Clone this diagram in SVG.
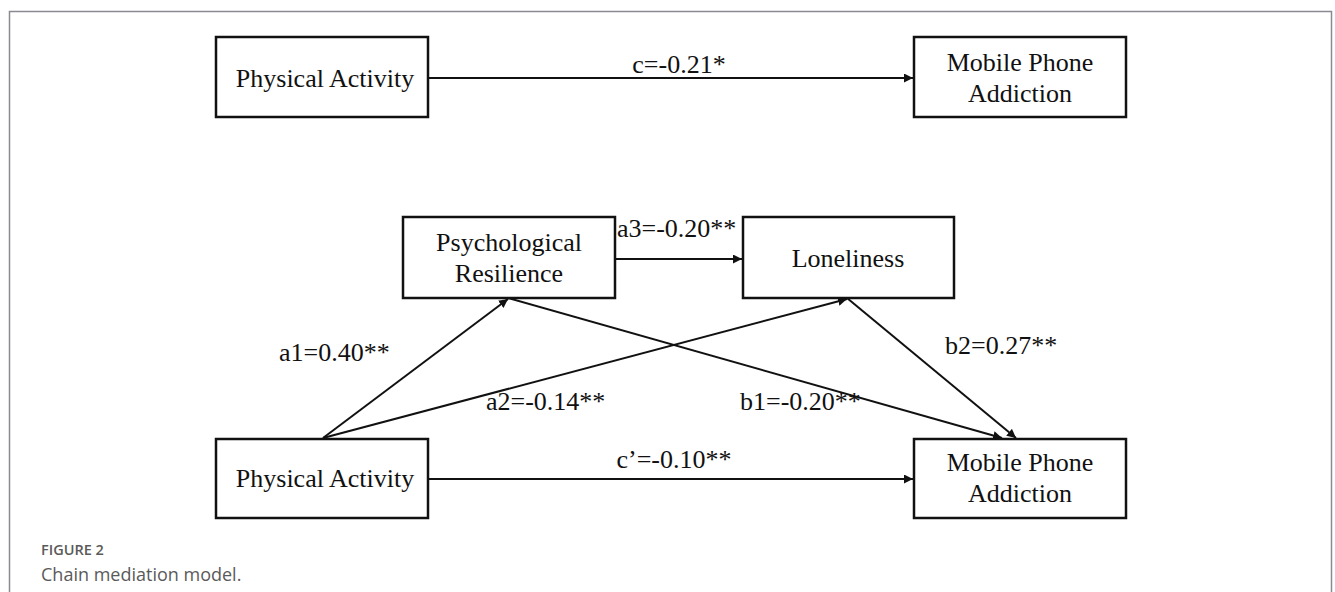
<svg xmlns="http://www.w3.org/2000/svg" width="1335" height="592" viewBox="0 0 1335 592">
<style>
.box{fill:#fff;stroke:#111;stroke-width:2.5}
.t{font-family:"Liberation Serif","Times New Roman",serif;font-size:26px;fill:#111;text-anchor:middle}
.l{font-family:"Liberation Serif","Times New Roman",serif;font-size:26px;fill:#111}
.c{fill:none;stroke:#111;stroke-width:2}
.cap1{font-family:"Open Sans","Noto Sans",sans-serif;font-size:14.5px;font-weight:600;fill:#5a5a5a}
.cap2{font-family:"Open Sans","Noto Sans",sans-serif;font-size:18px;fill:#5a5a5a}
</style>
<defs>
<marker id="ah" viewBox="0 0 10 10" refX="10" refY="5" markerWidth="9" markerHeight="9" markerUnits="userSpaceOnUse" orient="auto">
<path d="M0,0 L10,5 L0,10 Z" fill="#111"/>
</marker>
</defs>
<rect width="1335" height="592" fill="#fff"/>
<path d="M9.5,600 V11.5 H1331.5 V600" fill="none" stroke="#8a8a92" stroke-width="1.5"/>
<g id="connectors">
<line class="c" x1="428" y1="78" x2="913" y2="78" marker-end="url(#ah)"/>
<line class="c" x1="615" y1="259" x2="742" y2="259" marker-end="url(#ah)"/>
<line class="c" x1="323" y1="438" x2="508" y2="299" marker-end="url(#ah)"/>
<line class="c" x1="323" y1="438" x2="847" y2="299" marker-end="url(#ah)"/>
<line class="c" x1="508" y1="298" x2="1002" y2="438" marker-end="url(#ah)"/>
<line class="c" x1="847" y1="298" x2="1016" y2="438" marker-end="url(#ah)"/>
<line class="c" x1="428" y1="479" x2="913" y2="479" marker-end="url(#ah)"/>
<text class="l" x="679" y="73" text-anchor="middle">c=-0.21*</text>
<text class="l" x="617" y="237">a3=-0.20**</text>
<text class="l" x="279" y="361">a1=0.40**</text>
<text class="l" x="945" y="354">b2=0.27**</text>
<text class="l" x="486" y="410">a2=-0.14**</text>
<text class="l" x="740" y="410">b1=-0.20**</text>
<text class="l" x="674" y="468" text-anchor="middle">c’=-0.10**</text>
</g>
<g id="pa-top">
<rect class="box" x="216" y="37" width="212" height="80"/>
<text class="t" x="325" y="87">Physical Activity</text>
</g>
<g id="mpa-top">
<rect class="box" x="914" y="37" width="212" height="80"/>
<text class="t" x="1020" y="71">Mobile Phone</text>
<text class="t" x="1020" y="102">Addiction</text>
</g>
<g id="resilience">
<rect class="box" x="403" y="217" width="212" height="81"/>
<text class="t" x="509" y="251">Psychological</text>
<text class="t" x="509" y="282">Resilience</text>
</g>
<g id="loneliness">
<rect class="box" x="743" y="217" width="211" height="81"/>
<text class="t" x="848" y="267">Loneliness</text>
</g>
<g id="pa-bottom">
<rect class="box" x="216" y="439" width="212" height="79"/>
<text class="t" x="325" y="487">Physical Activity</text>
</g>
<g id="mpa-bottom">
<rect class="box" x="914" y="439" width="212" height="79"/>
<text class="t" x="1020" y="471">Mobile Phone</text>
<text class="t" x="1020" y="502">Addiction</text>
</g>
<g id="caption">
<text class="cap1" x="41" y="555">FIGURE 2</text>
<text class="cap2" x="41" y="581">Chain mediation model.</text>
</g>
</svg>
